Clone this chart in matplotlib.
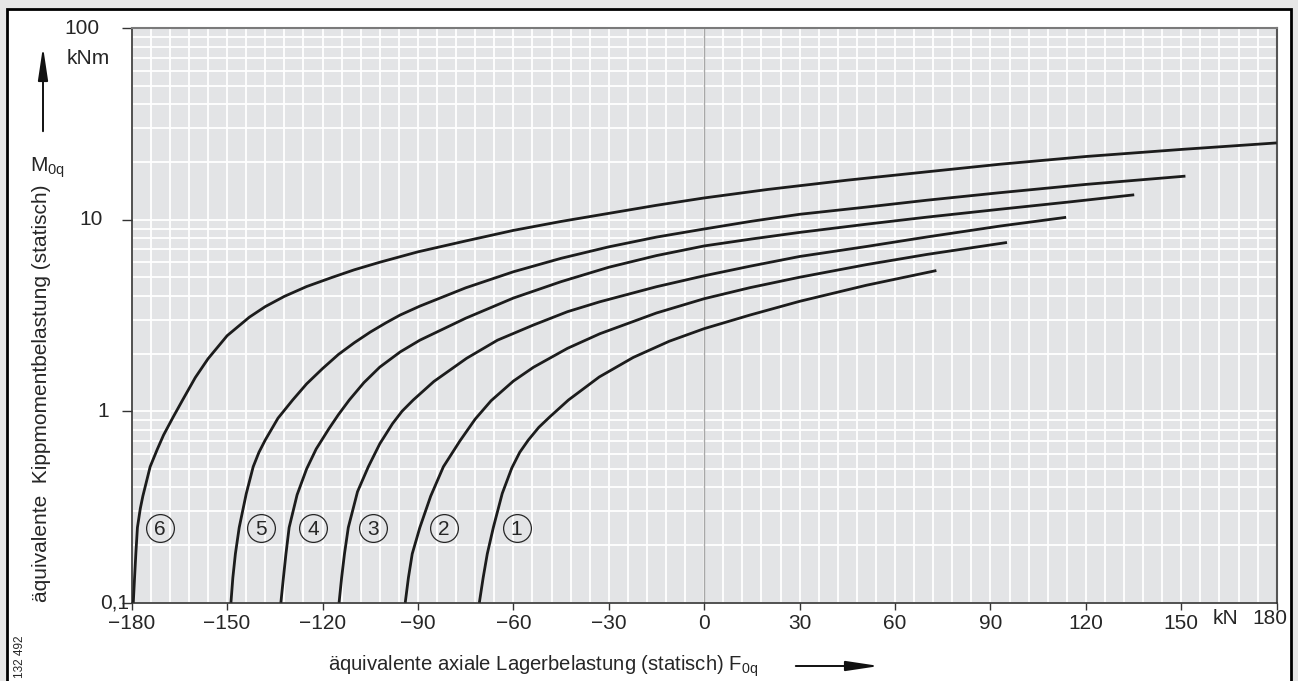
import matplotlib
matplotlib.use("Agg")
import matplotlib.pyplot as plt
from matplotlib.patches import Rectangle, FancyArrowPatch
from matplotlib.ticker import MultipleLocator, LogLocator, NullFormatter
from matplotlib import transforms

plt.rcParams['font.family'] = ['Liberation Sans', 'DejaVu Sans']
plt.rcParams['mathtext.fontset'] = 'custom'
plt.rcParams['mathtext.rm'] = 'Liberation Sans'

FS_TICK = 15
FS_YLABEL = 15
FS_XLABEL = 14.6
TXT = "#262626"

# Tilting-moment limit curves for bearing sizes 1..6
curve_ids = ["1", "2", "3", "4", "5", "6"]

c1_x = [-70.7, -69.5, -68.2, -66.3, -63.5, -60.5, -58, -55.3, -52, -48.5, -42.7, -33, -22.3, -11,
        0, 14.4, 30, 51, 73]
c1_y = [0.1, 0.135, 0.18, 0.247, 0.372, 0.505, 0.61, 0.707, 0.824, 0.936, 1.144, 1.51, 1.91, 2.32,
        2.7, 3.18, 3.75, 4.55, 5.43]

c2_x = [-94.0, -93.0, -91.8, -89.4, -86, -82, -76.8, -72, -67, -60, -53.7, -43, -32.8, -15,
        0, 14.4, 30, 51, 70, 95.2]
c2_y = [0.1, 0.135, 0.18, 0.247, 0.36, 0.513, 0.70, 0.91, 1.135, 1.437, 1.696, 2.13, 2.54, 3.26,
        3.87, 4.42, 5.01, 5.83, 6.59, 7.61]

c3_x = [-114.8, -114.0, -113.1, -111.9, -109, -105.6, -102, -98, -95, -91.5, -85, -74.7, -65,
        -53.7, -43, -32.8, -15, 0, 14.4, 30, 51, 70, 93, 113.8]
c3_y = [0.1, 0.135, 0.18, 0.247, 0.38, 0.513, 0.676, 0.861, 1.0, 1.144, 1.43, 1.89, 2.35,
        2.82, 3.31, 3.73, 4.47, 5.1, 5.72, 6.43, 7.25, 8.13, 9.27, 10.3]

c4_x = [-133.1, -132.3, -131.5, -130.5, -128, -125, -122, -118, -115, -111.6, -107, -102, -95.6,
        -89.4, -75, -60, -45, -30, -15, 0, 15, 30, 51, 70, 93, 115, 135.2]
c4_y = [0.1, 0.135, 0.18, 0.247, 0.366, 0.50, 0.635, 0.81, 0.96, 1.144, 1.41, 1.70, 2.04,
        2.35, 3.06, 3.9, 4.75, 5.65, 6.5, 7.3, 7.94, 8.59, 9.48, 10.32, 11.35, 12.4, 13.5]

c5_x = [-148.8, -148.2, -147.4, -146.2, -144, -141.8, -140, -138, -134, -129.4, -125, -120, -115,
        -110, -105, -100, -95.6, -89.4, -75, -60, -45, -30, -15, 0, 15, 30, 51, 70, 93, 120, 151.3]
c5_y = [0.1, 0.135, 0.18, 0.247, 0.37, 0.513, 0.61, 0.708, 0.92, 1.144, 1.39, 1.67, 1.98,
        2.28, 2.59, 2.90, 3.18, 3.54, 4.41, 5.35, 6.29, 7.22, 8.12, 8.95, 9.83, 10.68, 11.65, 12.65,
        13.85, 15.3, 16.9]

c6_x = [-179.5, -179.1, -178.7, -178.2, -177.3, -176.5, -174.2, -172, -170, -167, -164, -160, -156,
        -150, -143, -138, -132, -125, -117, -110, -102, -90, -75, -60, -45, -30, -15, 0, 20, 45, 70,
        93, 120, 150, 180]
c6_y = [0.1, 0.135, 0.18, 0.247, 0.31, 0.36, 0.513, 0.63, 0.75, 0.93, 1.144, 1.50, 1.88,
        2.48, 3.1, 3.52, 3.98, 4.48, 5.0, 5.48, 6.0, 6.8, 7.75, 8.8, 9.8, 10.8, 11.9, 13.0, 14.4, 16.1,
        17.8, 19.5, 21.4, 23.3, 25.2]

curves_x = [c1_x, c2_x, c3_x, c4_x, c5_x, c6_x]
curves_y = [c1_y, c2_y, c3_y, c4_y, c5_y, c6_y]

# Positions of the circled curve numbers
marker_x = [-59.0, -81.8, -104.2, -122.9, -139.4, -171.1]
marker_y = [0.247, 0.247, 0.247, 0.247, 0.247, 0.247]

x_ticks = [-180, -150, -120, -90, -60, -30, 0, 30, 60, 90, 120, 150, 180]
x_labels = ["\u2212180", "\u2212150", "\u2212120", "\u221290", "\u221260", "\u221230", "0",
            "30", "60", "90", "120", "150", "180"]
y_ticks = [0.1, 1, 10, 100]
y_labels = ["0,1", "1", "10", "100"]

W, H = 1298, 681
fig = plt.figure(figsize=(W / 100, H / 100), dpi=100)
fig.patch.set_facecolor("#e6e6e6")

# white sheet with black frame, behind the axes
sheet = Rectangle((6.5 / W, -0.05), 1284.5 / W, 1.05 - 9 / H,
                  transform=fig.transFigure, facecolor="white",
                  edgecolor="black", linewidth=2.0, zorder=-5)
fig.patches.append(sheet)

ax_l, ax_r, ax_t, ax_b = 131.7, 1276.7, 28.3, 602.7
ax = fig.add_axes([ax_l / W, (H - ax_b) / H, (ax_r - ax_l) / W, (ax_b - ax_t) / H])
ax.set_facecolor("#e3e4e6")
ax.set_xlim(-180, 180)
ax.set_yscale("log")
ax.set_ylim(0.1, 100)

ax.xaxis.set_major_locator(MultipleLocator(30))
ax.xaxis.set_minor_locator(MultipleLocator(6))
ax.yaxis.set_major_locator(LogLocator(base=10))
ax.yaxis.set_minor_locator(LogLocator(base=10, subs=range(2, 10)))
ax.yaxis.set_minor_formatter(NullFormatter())
ax.set_axisbelow(True)
ax.grid(True, which="both", color="white", linewidth=1.3)

ax.set_xticks(x_ticks)
ax.set_xticklabels(x_labels[:-1] + [""])
ax.tick_params(axis="x", which="major", length=5, width=1, color="#333333",
               labelsize=FS_TICK, labelcolor=TXT, pad=3)
ax.tick_params(axis="y", which="major", length=7, width=1, color="#333333")
ax.tick_params(which="minor", length=0)
ax.set_yticks(y_ticks)
ax.set_yticklabels([])

for side in ("left", "bottom"):
    ax.spines[side].set_color("#333333")
    ax.spines[side].set_linewidth(1.2)
ax.spines["top"].set_color("#7a7a7a")
ax.spines["top"].set_linewidth(1.5)
ax.spines["right"].set_color("#555555")
ax.spines["right"].set_linewidth(1.5)

ax.axvline(0, color="#a8a8a8", linewidth=1.0, zorder=1.5)

for xs, ys in zip(curves_x, curves_y):
    ax.plot(xs, ys, color="#1c1c1c", linewidth=2.0, solid_joinstyle="round",
            solid_capstyle="butt", zorder=3)

for mx, my, lab in zip(marker_x, marker_y, curve_ids):
    ax.plot([mx], [my], marker="o", markersize=20, markerfacecolor="none",
            markeredgecolor=TXT, markeredgewidth=0.9, zorder=4)
    ax.text(mx, my, lab, ha="center", va="center_baseline", fontsize=FS_TICK,
            color=TXT, zorder=5)

# y tick labels placed individually
blend = transforms.blended_transform_factory(ax.transAxes, ax.transData)
y_label_dx = [-3, -23, -29, -32]
for yv, lab, dx in zip(y_ticks, y_labels, y_label_dx):
    tr = transforms.offset_copy(blend, fig=fig, x=dx, y=0, units="dots")
    ax.text(0, yv, lab, transform=tr, ha="right", va="center", fontsize=FS_TICK, color=TXT)


def fx(px):
    return px / W


def fy(py):
    return 1 - py / H


fig.text(fx(1269.5), fy(619), x_labels[-1], ha="center", va="center",
         fontsize=FS_TICK, color=TXT)
fig.text(fx(88), fy(59), "kNm", ha="center", va="center", fontsize=FS_TICK, color=TXT)
fig.text(fx(1225), fy(618), "kN", ha="center", va="center", fontsize=FS_TICK, color=TXT)

fig.text(fx(47), fy(168), r"M$_{\mathregular{0q}}$", ha="center", va="center",
         fontsize=FS_YLABEL, color=TXT)
fig.text(fx(42), fy(393), "äquivalente  Kippmomentbelastung (statisch)", rotation=90,
         ha="center", va="center", fontsize=FS_YLABEL, color=TXT)
fig.text(fx(328), fy(666), r"äquivalente axiale Lagerbelastung (statisch) F$_{\mathregular{0q}}$",
         ha="left", va="center", fontsize=FS_XLABEL, color=TXT)
fig.text(fx(20), fy(657), "132 492", rotation=90, ha="center", va="center",
         fontsize=8.5, color=TXT)

arrow_style = "-|>,head_length=20,head_width=3"
fig.patches.append(FancyArrowPatch((fx(43), fy(134)), (fx(43), fy(44)),
                                   transform=fig.transFigure, arrowstyle=arrow_style,
                                   color="#111111", linewidth=1.4, mutation_scale=1, zorder=6))
fig.patches.append(FancyArrowPatch((fx(793), fy(666)), (fx(882), fy(666)),
                                   transform=fig.transFigure, arrowstyle=arrow_style,
                                   color="#111111", linewidth=1.4, mutation_scale=1, zorder=6))

fig.savefig("out.png", dpi=100, facecolor=fig.get_facecolor())
